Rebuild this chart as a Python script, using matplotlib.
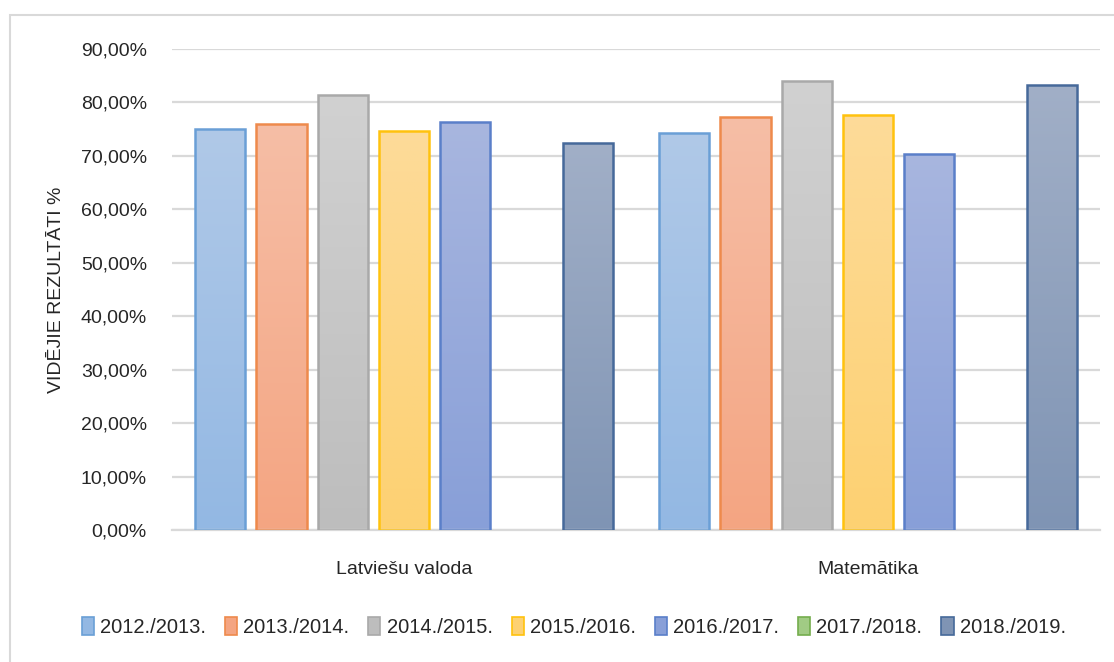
import numpy as np
import matplotlib
matplotlib.use("Agg")
import matplotlib.pyplot as plt
from matplotlib.colors import LinearSegmentedColormap
from matplotlib.patches import Rectangle
from matplotlib.ticker import FuncFormatter, MultipleLocator

categories = ["Latviešu valoda", "Matemātika"]
years = ["2012./2013.", "2013./2014.", "2014./2015.", "2015./2016.",
         "2016./2017.", "2017./2018.", "2018./2019."]
# average results per school year (fraction); 2017./2018. has no data
latv = [0.750, 0.760, 0.814, 0.747, 0.763, np.nan, 0.724]
mat = [0.743, 0.772, 0.840, 0.777, 0.704, np.nan, 0.833]

# (top colour, bottom colour, edge colour)
styles = [
    ("#b0c9e8", "#93b8e3", "#6a9fd6"),
    ("#f6bea6", "#f4a582", "#ee8a4c"),
    ("#d1d1d1", "#bdbdbd", "#a9a9a9"),
    ("#fddb99", "#fdd172", "#ffc20e"),
    ("#a8b6df", "#889fd8", "#5a7fc9"),
    ("#b5d69f", "#a1cb84", "#74ad4d"),
    ("#a1afc7", "#7f94b4", "#46699a"),
]

plt.rcParams['font.family'] = ['Liberation Sans', 'DejaVu Sans']
txt = "#262626"

fig = plt.figure(figsize=(11.14, 6.62), dpi=100)
ax = fig.add_axes([172 / 1114, 1 - 530 / 662, (1100 - 172) / 1114, (530 - 49) / 662])

# chart frame
fig.patches.append(Rectangle((10 / 1114, -0.1), 1.2, 1 - 15 / 662 + 0.1,
                             transform=fig.transFigure, fill=False,
                             edgecolor="#d9d9d9", linewidth=1.5))

x = np.arange(len(categories))
step = 0.132
width = 0.108
values = np.array([latv, mat]).T

for i, (name, (ctop, cbot, cedge)) in enumerate(zip(years, styles)):
    offs = (i - 3) * step
    vals = values[i]
    bars = ax.bar(x + offs, np.nan_to_num(vals), width, facecolor="none",
                  edgecolor=cedge, linewidth=1.8, zorder=3, label=name)
    cmap = LinearSegmentedColormap.from_list(name, [cbot, ctop])
    grad = np.linspace(0, 1, 256).reshape(-1, 1)
    for b, v in zip(bars, vals):
        if np.isnan(v):
            b.set_visible(False)
            continue
        im = ax.imshow(grad, cmap=cmap, aspect="auto", origin="lower",
                       extent=(b.get_x(), b.get_x() + b.get_width(), 0, b.get_height()),
                       zorder=2)
        im.set_clip_path(b)

ax.set_xlim(-0.5, 1.5)
ax.set_ylim(0, 0.9)
ax.yaxis.set_major_locator(MultipleLocator(0.1))
ax.yaxis.set_major_formatter(FuncFormatter(lambda v, p: f"{v * 100:.2f}%".replace(".", ",")))
ax.set_xticks(x)
ax.set_xticklabels(categories, fontsize=14, color=txt)
ax.tick_params(axis="both", length=0, labelsize=14, labelcolor=txt)
ax.tick_params(axis="x", pad=22)
ax.tick_params(axis="y", pad=18)
ax.grid(True, axis="y", color="#d9d9d9", linewidth=1.6, zorder=0)
ax.set_axisbelow(True)
for s in ["top", "right", "left"]:
    ax.spines[s].set_visible(False)
ax.spines["bottom"].set_color("#d9d9d9")
ax.spines["bottom"].set_linewidth(1.6)
ax.set_ylabel("VIDĒJIE REZULTĀTI %", fontsize=14, color=txt, labelpad=11)

handles = [Rectangle((0, 0), 1, 1, facecolor=c[1], edgecolor=c[2], linewidth=1.2) for c in styles]
fig.legend(handles, years, loc="center", bbox_to_anchor=(0.515, 1 - 627 / 662), ncol=7,
           frameon=False, fontsize=14.5, handlelength=0.6, handleheight=1.0,
           handletextpad=0.3, columnspacing=0.95, labelcolor=txt)

fig.savefig("out.png", dpi=100)
